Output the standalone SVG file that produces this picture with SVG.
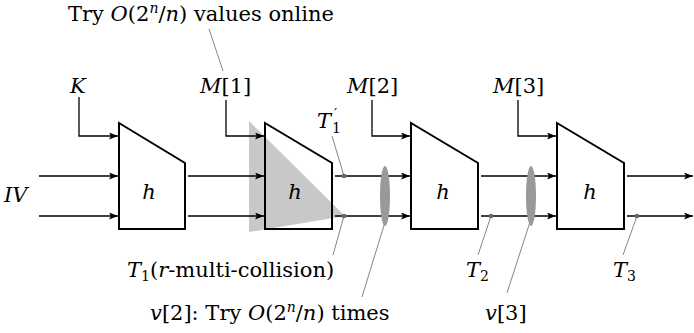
<svg xmlns="http://www.w3.org/2000/svg" width="694" height="333" viewBox="0 0 694 333">
<defs>
<marker id="ah" markerUnits="userSpaceOnUse" markerWidth="10" markerHeight="8" refX="9" refY="3.5" orient="auto">
<path d="M0,0 L9,3.5 L0,7 L2,3.5 z" fill="#000"/>
</marker>
</defs>
<rect width="694" height="333" fill="#fff"/>
<polygon id="collision-region" points="249,121 345,216 249,232" fill="#c8c8c8"/>
<g id="connectors">
<g fill="none" stroke="#000" stroke-width="1.3" marker-end="url(#ah)">
<path d="M79,97 V136 H118"/>
<path d="M226,100 V136 H264"/>
<path d="M372,100 V136 H410"/>
<path d="M518,100 V136 H556"/>
<path d="M39,176 H118"/>
<path d="M39,216 H118"/>
<path d="M188,176 H264"/>
<path d="M188,216 H264"/>
<path d="M335,176 H410"/>
<path d="M335,216 H410"/>
<path d="M481,176 H556"/>
<path d="M481,216 H556"/>
<path d="M627,176 H693"/>
<path d="M627,216 H693"/>
</g>
<g fill="none" stroke="#777" stroke-width="0.9">
<line x1="209" y1="29" x2="223" y2="71"/>
<line x1="332" y1="136" x2="344" y2="176"/>
<line x1="344" y1="216" x2="333" y2="255"/>
<line x1="385" y1="222" x2="362" y2="297"/>
<line x1="491" y1="216" x2="478" y2="255"/>
<line x1="530" y1="222" x2="507" y2="293"/>
<line x1="637" y1="216" x2="623" y2="255"/>
</g>
<g fill="#666">
<circle cx="344" cy="176" r="2.3"/>
<circle cx="344" cy="216" r="2.3"/>
<circle cx="491" cy="216" r="2.3"/>
<circle cx="637" cy="216" r="2.3"/>
</g>
<g fill="#999">
<ellipse cx="385" cy="196" rx="5" ry="30"/>
<ellipse cx="531" cy="196" rx="5" ry="30"/>
</g>
</g>
<g id="block1"><polygon points="119,123 185,163 185,229 119,229" fill="none" stroke="#000" stroke-width="2"/></g>
<g id="block2"><polygon points="265,123 332,163 332,229 265,229" fill="none" stroke="#000" stroke-width="2"/></g>
<g id="block3"><polygon points="411,123 478,163 478,229 411,229" fill="none" stroke="#000" stroke-width="2"/></g>
<g id="block4"><polygon points="557,123 624,163 624,229 557,229" fill="none" stroke="#000" stroke-width="2"/></g>
<text font-family="DejaVu Serif" font-size="21" font-style="italic" x="149" y="199" text-anchor="middle">h</text>
<text font-family="DejaVu Serif" font-size="21" font-style="italic" x="295" y="199" text-anchor="middle">h</text>
<text font-family="DejaVu Serif" font-size="21" font-style="italic" x="443" y="199" text-anchor="middle">h</text>
<text font-family="DejaVu Serif" font-size="21" font-style="italic" x="590" y="199" text-anchor="middle">h</text>
<text font-family="DejaVu Serif" font-size="21" x="68" y="21">Try <tspan font-style="italic">O</tspan>(2<tspan font-style="italic" font-size="14" dy="-8">n</tspan><tspan dy="8">/</tspan><tspan font-style="italic">n</tspan>) values online</text>
<text font-family="DejaVu Serif" font-size="21" font-style="italic" x="70" y="93">K</text>
<text font-family="DejaVu Serif" font-size="21" x="200" y="93"><tspan font-style="italic">M</tspan>[1]</text>
<text font-family="DejaVu Serif" font-size="21" x="347" y="93"><tspan font-style="italic">M</tspan>[2]</text>
<text font-family="DejaVu Serif" font-size="21" x="493" y="93"><tspan font-style="italic">M</tspan>[3]</text>
<text font-family="DejaVu Serif" font-size="21" x="317" y="128"><tspan font-style="italic">T</tspan><tspan font-size="14" x="332" dy="5">1</tspan><tspan font-size="14" x="334" dy="-14">′</tspan></text>
<text font-family="DejaVu Serif" font-size="21" font-style="italic" x="4" y="202">IV</text>
<text font-family="DejaVu Serif" font-size="21" x="127" y="277"><tspan font-style="italic">T</tspan><tspan font-size="14" dy="4">1</tspan><tspan dy="-4">(</tspan><tspan font-style="italic">r</tspan>-multi-collision)</text>
<text font-family="DejaVu Serif" font-size="21" x="150" y="320"><tspan font-style="italic">v</tspan>[2]: Try <tspan font-style="italic">O</tspan>(2<tspan font-style="italic" font-size="14" dy="-8">n</tspan><tspan dy="8">/</tspan><tspan font-style="italic">n</tspan>) times</text>
<text font-family="DejaVu Serif" font-size="21" x="466" y="277"><tspan font-style="italic">T</tspan><tspan font-size="14" dy="4">2</tspan></text>
<text font-family="DejaVu Serif" font-size="21" x="613" y="277"><tspan font-style="italic">T</tspan><tspan font-size="14" dy="4">3</tspan></text>
<text font-family="DejaVu Serif" font-size="21" x="485" y="320"><tspan font-style="italic">v</tspan>[3]</text>
</svg>
